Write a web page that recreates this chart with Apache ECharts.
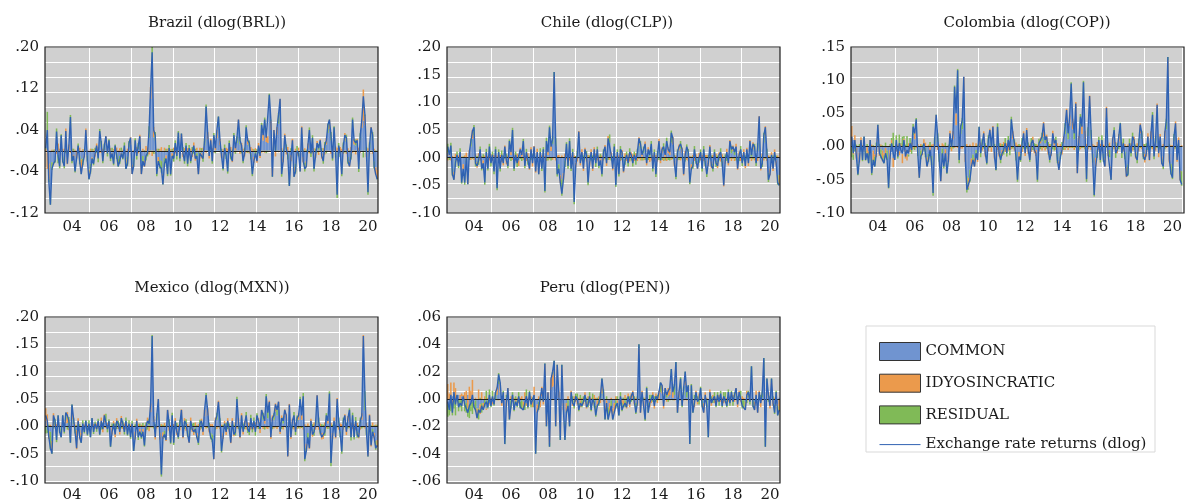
<!DOCTYPE html>
<html>
<head>
<meta charset="utf-8">
<script src="https://cdn.jsdelivr.net/npm/echarts@6/dist/echarts.min.js"></script>
<style>
  html, body { margin: 0; padding: 0; background: #fff; }
  #chart { width: 1185px; height: 503px; }
</style>
</head>
<body>
<div id="chart"></div>
<script>
// Muestras mensuales 2003M01 - 2020M12, valores en milesimas (dlog x 1000)
var years = [2003, 2004, 2005, 2006, 2007, 2008, 2009, 2010, 2011, 2012, 2013, 2014, 2015, 2016, 2017, 2018, 2019, 2020];
var meses = [];
years.forEach(function (y) {
  for (var m = 1; m <= 12; m++) meses.push(y + 'M' + (m < 10 ? '0' + m : m));
});

/* Brasil */
var brlTotal = [
  5, 40, -60, -104, -35, -25, -20, 37, -10, -30, 30, -20,
  -30, 38, -25, 10, 65, -20, -10, -40, -15, 10, -20, -45,
  -25, -10, 40, -20, -55, -40, -15, -25, -5, 10, -15, 38,
  15, -20, 10, 28, -5, 20, -15, -5, -25, 10, -10, -30,
  -20, -5, -15, 10, -35, -25, 15, 25, -45, -30, 20, -10,
  10, 28, -45, -20, -30, -10, -5, 40, 120, 190, 40, 30,
  -45, -20, -30, -35, -65, -25, -15, -45, 5, -45, -10, -15,
  15, -10, 35, -15, 33, -5, -20, 10, -25, 5, -20, -5,
  10, -15, -10, -45, -5, -10, -15, 20, 85, 35, -10, 20,
  -20, 30, 5, 40, 66, 20, -10, -35, 5, -10, -40, 15,
  -10, -20, 30, 5, 25, 60, 20, 10, -20, -5, 45, 20,
  15, -10, -45, -20, -5, -20, 10, -10, 50, 30, 60, 25,
  25, 108, 60, -50, 40, 0, 45, 70, 100, -45, -20, 30,
  5, -10, -68, -15, 20, -50, -40, 0, -5, -40, 45, -20,
  -35, -30, 10, 40, -5, 25, -35, -10, 15, 5, 20, -10,
  -20, 10, 20, 50, 60, 30, -15, 45, -5, -85, 10, -5,
  -45, 10, 30, 25, -20, -30, -10, 60, 20, 15, 20, -35,
  30, 60, 105, 70, -5, -80, 10, 45, 30, -30, -45, -55
];
var brlCommon = [
  0, 10, -25, -79, -22, -24, -18, 23, -8, -19, 15, -11,
  -16, 18, -13, -1, 47, -10, -8, -26, -2, 0, -11, -17,
  -15, -9, 29, -9, -36, -25, -13, -15, -5, 1, -8, 26,
  7, -10, 1, 14, 0, 9, -8, -5, -14, 3, -5, -16,
  -10, -5, -6, 3, -17, -11, 7, 12, -27, -16, 10, -5,
  3, 17, -29, -10, -19, -9, -1, 25, 100, 165, 26, 20,
  -27, -12, -18, -20, -45, -14, -9, -29, 0, -32, -5, -8,
  4, -5, 21, -8, 16, -1, -11, 4, -15, 0, -12, -2,
  5, -8, -5, -30, -2, -5, -8, 10, 67, 22, -5, 12,
  -12, 17, 1, 24, 46, 11, -5, -22, 1, -5, -24, 8,
  -5, -11, 17, 1, 15, 44, 12, 5, -11, -2, 31, 12,
  8, -5, -29, -12, -1, -11, 5, -5, 34, 20, 40, 17,
  15, 88, 40, -32, 20, -2, 31, 52, 78, -25, -11, 20,
  2, -5, -46, -8, 12, -32, -25, -2, -2, -25, 32, -12,
  -23, -20, 5, 27, -2, 15, -22, -5, 8, 2, 12, -5,
  -12, 5, 12, 34, 42, 20, -8, 31, -2, -64, 5, -2,
  -30, 5, 20, 17, -12, -20, -5, 44, 12, 10, 13, -23,
  20, 44, 58, 49, -2, -63, 5, 32, 20, -20, -32, -37
];
var brlIdio = [
  3, -35, -30, -7, 2, -3, 3, -6, 14, 4, -2, 3,
  4, 25, -13, 12, -4, 4, -6, 2, -12, -4, 6, -26,
  3, -4, 14, 1, -10, 4, -6, 3, -6, 13, 7, -4,
  -4, 4, -4, 14, 6, -2, 5, -6, 3, -2, 6, 1,
  5, -6, 2, -6, -6, 4, -4, 14, -18, 1, -4, 7,
  -5, 14, -16, 4, -12, 9, 6, -7, 23, -10, 20, -6,
  4, -12, 4, 7, -18, 6, -10, 4, -6, 3, -9, 6,
  -5, 7, -3, 5, 15, -11, 5, -5, 5, -6, 4, -10,
  11, -11, 6, -14, 6, -10, 6, -3, -4, 14, -10, 11,
  5, -4, 9, 16, 0, 12, -9, 3, -7, 6, 4, -5,
  7, -11, -4, 10, -3, 16, -6, 10, 4, -9, -4, 12,
  -5, 7, 4, -11, 5, -12, 10, -9, -4, 13, -4, 13,
  13, -2, 18, -15, 20, -9, 15, -3, 22, 5, -11, 13,
  -7, 7, -4, -12, 11, -16, 4, -7, 6, -14, 15, -10,
  5, -12, 9, -5, 7, -5, 5, -9, 11, -8, 10, -10,
  5, -7, 13, -2, 17, -6, 4, -2, 8, 6, -5, 7,
  4, -6, 14, -6, 5, -11, 7, -4, 11, -7, 10, 6,
  -4, 16, 60, 18, -10, 5, -6, 14, -6, 4, -14, -16
];
var brlResid = [
  2, 65, -5, -18, -15, 2, -5, 20, -16, -15, 17, -12,
  -18, -5, 1, -1, 22, -14, 4, -16, -1, 14, -15, -2,
  -13, 3, -3, -12, -9, -19, 4, -13, 6, -4, -14, 16,
  12, -14, 13, 0, -11, 13, -12, 6, -14, 9, -11, -15,
  -15, 6, -11, 13, -12, -18, 12, -1, 0, -15, 14, -12,
  12, -3, 0, -14, 1, -10, -10, 22, -3, 35, -6, 16,
  -22, 4, -16, -22, -2, -17, 4, -20, 11, -16, 4, -13,
  16, -12, 17, -12, 2, 7, -14, 11, -15, 11, -12, 7,
  -6, 4, -11, -1, -9, 5, -13, 13, 22, -1, 5, -3,
  -13, 17, -5, 0, 20, -3, 4, -16, 11, -11, -20, 12,
  -12, 2, 17, -6, 13, 0, 14, -5, -13, 6, 18, -4,
  12, -12, -20, 3, -9, 3, -5, 4, 20, -3, 24, -5,
  -3, 22, 2, -3, 0, 11, -1, 21, 0, -25, 2, -3,
  10, -12, -18, 5, -3, -2, -19, 9, -9, -1, -2, 2,
  -17, 2, -4, 18, -10, 15, -18, 4, -4, 11, -2, 5,
  -13, 12, -5, 18, 1, 16, -11, 16, -11, -27, 10, -10,
  -19, 11, -4, 14, -13, 1, -12, 20, -3, 12, -3, -18,
  14, 0, -13, 3, 7, -22, 11, -1, 16, -14, 1, -2
];

/* Chile */
var clpTotal = [
  20, 5, 22, -30, -40, -10, 5, -15, 10, -45, -20, -45,
  0, -48, 10, 30, 48, 55, -10, -15, -5, 15, -20, -10,
  -45, 10, -20, 20, -10, 5, -25, 15, -55, 10, -20, 5,
  -10, 20, -5, -15, 30, 10, 50, -20, 5, -10, -10, 15,
  5, 30, -15, 10, -5, -20, 15, -10, 20, -25, 10, -30,
  10, -20, 15, -60, 30, 10, 55, 20, 35, 155, 30, -30,
  -20, -45, -65, -40, -10, 25, -15, 30, -20, 10, -80, -15,
  5, 47, -10, 10, -20, 15, 5, -45, -10, 10, -20, 15,
  -10, 15, -15, -5, -30, 10, 20, -10, 35, 38, 5, -20,
  20, -50, 10, -30, 15, 10, -25, -5, 5, -10, 10, 5,
  -10, 5, -5, 10, 35, 25, 5, 15, 25, -10, 15, 5,
  25, -20, 10, -30, 5, 30, -5, 15, 20, 5, 30, 15,
  10, 45, 35, -10, -35, 10, 20, 25, 15, -30, 5, 20,
  10, -45, -20, -15, 15, -5, -20, 0, 10, -20, 15, -10,
  -30, -10, 20, -15, -20, 10, -10, -15, 5, 10, -10, -50,
  -5, 10, -10, 30, 15, 20, 10, 20, -20, 5, 15, -10,
  10, -15, 15, -10, 30, 5, 25, 20, -10, 20, 75, -20,
  -10, 40, 55, 10, -40, -30, 5, -20, 10, -10, -45, -50
];
var clpCommon = [
  9, 4, 8, -19, -26, -5, 1, -8, 5, -29, -12, -28,
  0, -32, 5, 20, 34, 40, -5, -8, -2, 8, -11, -5,
  -32, 5, -11, 10, -5, 2, -15, 8, -37, 5, -12, 2,
  -5, 10, -2, -8, 19, 5, 36, -10, 2, -5, -5, 8,
  2, 15, -8, 5, -2, -11, 8, -5, 10, -14, 5, -17,
  5, -11, 8, -44, 16, 5, 41, 12, 25, 125, 21, -20,
  -12, -32, -39, -28, -5, 15, -8, 16, -12, 5, -64, -9,
  3, 33, -5, 5, -11, 8, 2, -32, -5, 5, -12, 10,
  -5, 8, -8, -2, -20, 5, 11, -5, 24, 27, 2, -12,
  13, -36, 5, -20, 8, 5, -15, -2, 2, -5, 5, 2,
  -5, 2, -2, 5, 22, 16, 2, 8, 16, -5, 8, 2,
  16, -12, 5, -20, 2, 20, -2, 8, 12, 2, 20, 8,
  5, 27, 24, -5, -22, 5, 13, 16, 8, -20, 2, 13,
  5, -31, -12, -7, 8, -2, -9, 0, 5, -12, 8, -5,
  -18, -5, 13, -7, -11, 5, -5, -8, 2, 5, -5, -36,
  -2, 5, -5, 20, 8, 12, 5, 13, -12, 2, 8, -5,
  5, -7, 8, -5, 18, 2, 15, 13, -5, 12, 55, -12,
  -5, 27, 39, 5, -27, -20, 2, -12, 5, -5, -31, -32
];
var clpIdio = [
  -5, 5, -5, 3, -13, 7, -6, 4, -7, 2, -10, 4,
  9, -15, 9, -4, 16, -4, 6, -10, 8, -5, 3, -11,
  4, -6, 3, -5, 6, -6, 5, -5, 4, -5, 5, -8,
  -9, 12, -10, 4, -3, 11, -4, 4, -6, 7, -10, 10,
  9, -4, 4, -6, 8, -11, 11, -11, 11, -13, 11, -12,
  -7, 4, -4, 3, -6, 10, -3, 13, -4, 22, -5, 4,
  5, -14, 4, -12, 7, -3, 5, -5, 4, -6, 4, -9,
  -7, 15, -9, 10, -13, 10, -7, 5, -9, 10, -12, 9,
  7, -5, 4, -10, 4, -5, 12, -10, 15, -4, 8, -11,
  -5, 3, -5, 4, -6, 9, -12, 8, -6, 6, -7, 8,
  6, -6, 8, -6, 15, -5, 8, -5, 13, -9, 11, -8,
  -5, 5, -5, 5, -7, 14, -8, 11, -6, 8, -6, 11,
  10, -4, 14, -10, 4, -5, 11, -5, 10, -12, 10, -4,
  -6, 3, -10, 5, -6, 6, -11, 9, -5, 5, -6, 5,
  5, -10, 10, -12, 5, -5, 7, -11, 8, -7, 6, -16,
  -9, 11, -9, 12, -6, 10, -6, 12, -10, 9, -6, 5,
  10, -12, 10, -10, 14, -6, 13, -5, 5, -6, 20, -11,
  7, -5, 18, -6, 4, -12, 8, -12, 10, -9, 4, -17
];
var clpResid = [
  16, -4, 19, -14, -1, -12, 10, -11, 12, -18, 2, -21,
  -9, -1, -4, 14, -2, 19, -11, 3, -11, 12, -12, 6,
  -17, 11, -12, 15, -11, 9, -15, 12, -22, 10, -13, 11,
  4, -2, 7, -11, 14, -6, 18, -14, 9, -12, 5, -3,
  -6, 19, -11, 11, -11, 2, -4, 6, -1, 2, -6, -1,
  12, -13, 11, -19, 20, -5, 17, -5, 14, 8, 14, -14,
  -13, 1, -30, 0, -12, 13, -12, 19, -12, 11, -20, 3,
  9, -1, 4, -5, 4, -3, 10, -18, 4, -5, 4, -4,
  -12, 12, -11, 7, -14, 10, -3, 5, -4, 15, -5, 3,
  12, -17, 10, -14, 13, -4, 2, -11, 9, -11, 12, -5,
  -11, 9, -11, 11, -2, 14, -5, 12, -4, 4, -4, 11,
  14, -13, 10, -15, 10, -4, 5, -4, 14, -5, 16, -4,
  -5, 22, -3, 5, -17, 10, -4, 14, -3, 2, -7, 11,
  11, -17, 2, -13, 13, -9, 0, -9, 10, -13, 13, -10,
  -17, 5, -3, 4, -14, 10, -12, 4, -5, 12, -11, 2,
  6, -6, 4, -2, 13, -2, 11, -5, 2, -6, 13, -10,
  -5, 4, -3, 5, -2, 9, -3, 12, -10, 14, 0, 3,
  -12, 18, -2, 11, -17, 2, -5, 4, -5, 4, -18, -1
];

/* Colombia */
var copTotal = [
  15, -10, 10, -15, -42, -20, 10, -20, 15, -20, -10, -25,
  10, -40, -20, -30, -10, 33, -10, -15, -20, -25, -10, -20,
  -62, -15, 5, -10, -20, 10, -15, 5, -5, -10, 10, -15,
  -5, -10, 5, -5, 30, 20, 41, -10, -47, -15, -10, 5,
  -10, -30, -20, -5, -25, -70, 10, 48, 15, -20, -52, -10,
  -30, -10, -40, -20, 20, 0, 20, 90, 50, 115, -20, 30,
  40, 105, -20, -65, -65, -50, -30, -20, -30, -10, -20, 30,
  -10, 5, 20, -10, -25, 10, 25, 0, 30, -15, -35, 30,
  -10, -20, -10, -5, 5, -10, 10, -5, 41, 20, 5, -15,
  -50, -15, -20, 5, 20, -10, 25, -5, -20, 5, 10, -5,
  -10, -50, 5, 10, 15, 35, 10, 15, -5, -20, -10, 20,
  5, 10, -20, -35, -15, -5, 10, 30, 55, 20, 45, 95,
  40, 20, 65, -40, 10, 45, 30, 97, 20, -49, 25, 76,
  20, -20, -73, -30, -10, 10, -20, 10, -20, -30, 58, -10,
  -10, -50, 10, 25, -10, -5, 15, 35, -10, 5, -15, -45,
  -41, 5, -10, 15, 10, -15, -20, 5, 33, 20, -15, -20,
  -10, 15, -20, 20, 48, -15, 10, 63, -10, 15, -25, -30,
  20, 40, 135, -20, -40, -47, 15, 35, -20, 10, -50, -57
];
var copCommon = [
  8, 10, -4, -2, -26, -9, -4, -6, 2, -6, -1, -7,
  5, -19, -6, -12, -2, 8, -1, -4, -6, -10, -2, -6,
  -42, -5, -8, -17, -20, -4, -5, -7, -10, -11, -6, -5,
  -11, -12, -3, 0, 17, 11, 27, -3, -31, -6, -3, 0,
  -2, -16, -11, -1, -14, -47, 3, 32, 7, -11, -36, -3,
  -17, -4, -24, -11, 12, 0, 11, 68, 32, 93, -11, 19,
  26, 83, -11, -44, -47, -35, -18, -12, -17, -5, -10, 0,
  -5, 2, 10, -5, -14, 5, 15, -1, 17, -8, -21, 16,
  -5, -11, -5, -2, 2, -5, 5, -2, 27, 11, 2, -8,
  -34, -8, -11, 2, 11, -5, 15, -2, -11, 2, 5, -2,
  -5, -34, 2, 5, 8, 15, 5, 8, -2, -11, -5, 11,
  2, 5, -11, -22, -8, -2, 5, 19, 37, 11, 31, 73,
  26, 11, 47, -26, 5, 31, 19, 75, 11, -33, 16, 58,
  11, -11, -53, -17, -5, 5, -10, 5, -11, -17, 44, -5,
  -5, -30, 5, 15, -5, -2, 8, 15, -5, 2, -8, -31,
  -27, 2, -5, 8, 5, -8, -10, 2, 20, 11, -8, -11,
  -5, 8, -10, 11, 34, -8, 5, 45, -5, 8, -15, -19,
  11, 26, 105, -11, -26, -29, 8, 24, -11, 5, -36, -37
];
var copIdio = [
  23, -12, 17, -16, 1, -15, 14, 2, 1, 1, -13, -3,
  3, 3, -16, -3, -14, 23, -13, 3, -16, -3, -14, 0,
  1, -14, 10, -14, 0, -3, 3, -6, 4, -14, 12, -13,
  -10, 5, -5, 6, -4, 14, -2, 4, -15, 4, -10, 11,
  6, -14, 3, -11, 3, 4, -4, 15, -5, 3, -16, 5,
  3, -12, 1, -12, 12, -7, 12, -2, 18, -2, 5, -3,
  -3, 22, -12, 4, -15, 3, -11, 6, -13, 5, -13, 15,
  6, -6, 13, -10, 2, -7, 12, -7, 14, -11, 1, -5,
  -10, 5, -9, 7, -8, 5, -6, 8, -4, 12, -6, 6,
  3, -11, 3, -8, 12, -9, 13, -9, 3, -8, 10, -8,
  -9, 3, -7, 9, -6, 22, -6, 10, -10, 4, -9, 13,
  9, -5, 5, -13, 4, -10, 10, -5, 20, -5, 16, -2,
  16, -5, 20, -14, 11, -4, 13, -2, 13, 4, -4, 19,
  -5, 4, 2, -13, 7, -5, 4, -7, 3, -13, 16, -9,
  6, -17, 9, -4, 7, -8, 11, -1, 7, -7, 4, -15,
  3, -7, 5, -6, 10, -10, 5, -7, 15, -4, 4, -13,
  -10, 12, -11, 12, -4, 4, -6, 20, -11, 11, -11, 4,
  13, -2, 25, -13, 2, 2, -4, 14, -12, 9, -15, 2
];
var copResid = [
  -16, -8, -3, 3, -17, 4, 0, -16, 12, -15, 4, -15,
  2, -24, 2, -15, 6, 2, 4, -14, 2, -12, 6, -14,
  -21, 4, 3, 21, 0, 17, -13, 18, 1, 15, 4, 3,
  16, -3, 13, -11, 17, -5, 16, -11, -1, -13, 3, -6,
  -14, 0, -12, 7, -14, -27, 11, 1, 13, -12, 0, -12,
  -16, 6, -17, 3, -4, 7, -3, 24, 0, 24, -14, 14,
  17, 0, 3, -25, -3, -18, -1, -14, 0, -10, 3, 15,
  -11, 9, -3, 5, -13, 12, -2, 8, -1, 4, -15, 19,
  5, -14, 4, -10, 11, -10, 11, -11, 18, -3, 9, -13,
  -19, 4, -12, 11, -3, 4, -3, 6, -12, 11, -5, 5,
  4, -19, 10, -4, 13, -2, 11, -3, 7, -13, 4, -4,
  -6, 10, -14, 0, -11, 7, -5, 16, -2, 14, -2, 24,
  -2, 14, -2, 0, -6, 18, -2, 24, -4, -20, 13, -1,
  14, -13, -22, 0, -12, 10, -14, 12, -12, 0, -2, 4,
  -11, -3, -4, 14, -12, 5, -4, 21, -12, 10, -11, 1,
  -17, 10, -10, 13, -5, 3, -15, 10, -2, 13, -11, 4,
  5, -5, 1, -3, 18, -11, 11, -2, 6, -4, 1, -15,
  -4, 16, 5, 4, -16, -20, 11, -3, 3, -4, 1, -22
];

/* Mexico */
var mxnTotal = [
  20, 10, -20, -40, -50, 20, 10, -25, 20, -10, -20, 20,
  -10, 25, 20, 10, -30, 40, 15, -10, -40, 10, -20, -30,
  5, -10, 10, -15, 5, -20, 15, -10, 5, -5, 10, -15,
  10, -5, 20, 20, -5, 10, -37, -10, 5, -15, 10, 5,
  -10, 15, 5, -10, 10, -15, 5, -20, 5, -45, -20, 10,
  -20, -10, -20, -10, -35, 0, 10, 5, 40, 165, 15, -20,
  20, 50, -20, -88, -20, -15, -25, 30, 5, -30, 20, -30,
  10, -10, -20, 5, 30, -20, 10, 5, -15, -30, 10, -5,
  -10, -5, -20, -30, 5, 10, -10, 30, 57, 30, -5, -20,
  -25, -60, 10, 20, 45, 10, -45, -20, 5, -10, 10, -5,
  -30, 10, -15, -10, 50, 10, -20, 20, -10, 5, 20, -5,
  -10, 15, -5, 10, -10, 20, 10, -5, 30, 20, 10, 55,
  25, 45, -20, 15, 20, 40, 30, 45, -10, 15, 10, 30,
  20, -55, 40, -20, 10, 20, -10, 15, 20, 50, 20, 55,
  -60, -45, -20, -40, 10, -15, -10, 5, 57, 10, -10, -20,
  -20, -10, 20, 10, 60, -67, -20, 10, -20, 50, 10, -15,
  -46, 10, 20, -10, 15, 30, -20, 20, -20, 10, -15, -20,
  10, 20, 165, 60, -10, -55, 20, -35, -10, -20, -40, -35
];
var mxnCommon = [
  10, -7, -9, -10, -27, 0, -4, -12, 6, 0, -5, 4,
  -1, 5, 6, -3, -15, 12, 3, 0, -7, 1, -7, -12,
  -2, 0, 0, -2, 0, -6, 2, -2, 0, 0, 2, -5,
  2, 0, 7, 8, -1, 3, -23, -3, 1, -6, 3, 1,
  -4, 5, 1, -4, 4, -6, 1, -9, 1, -29, -10, 4,
  -11, -5, -11, -5, -21, 0, 5, 2, 26, 143, 8, -11,
  11, 34, -12, -68, -11, -8, -16, 17, 2, -17, 12, -17,
  5, -5, -11, 2, 17, -12, 5, 2, -8, -17, 5, -2,
  -5, -2, -12, -17, 2, 5, -5, 18, 41, 20, -2, -12,
  -15, -44, 5, 12, 32, 5, -29, -12, 2, -5, 5, -2,
  -17, 5, -8, -5, 36, 5, -12, 12, -5, 2, 12, -2,
  -5, 8, -2, 5, -5, 12, 5, -2, 18, 12, 5, 41,
  15, 32, -12, 9, 12, 27, 20, 32, -5, 9, 5, 20,
  12, -39, 27, -12, 5, 12, -5, 9, 12, 36, 12, 34,
  -39, -32, -12, -27, 5, -9, -5, 2, 41, 5, -5, -12,
  -12, -5, 12, 5, 44, -41, -12, 5, -12, 37, 5, -9,
  -33, 5, 12, -5, 9, 20, -12, 12, -12, 5, -9, -12,
  5, 12, 143, 29, -5, -39, 12, -25, -5, -12, -27, -25
];
var mxnIdio = [
  23, 22, -14, 3, -18, 24, 2, 4, 1, 2, 0, 3,
  3, 7, 20, -4, -2, 20, 1, 3, -35, 14, -17, -5,
  -4, 3, -1, 2, -6, 0, 0, 4, -4, 5, -4, 1,
  14, -11, 15, -3, 6, -3, 1, -12, 9, -14, 12, -5,
  -11, 14, -5, 5, -6, 2, -6, 3, -5, 0, -14, 10,
  5, -10, 3, -11, 2, -7, 11, -9, 16, -2, 11, -13,
  -4, 16, -12, 4, -12, 6, -11, 13, -8, 2, -5, 4,
  10, -11, 3, -7, 14, -10, 10, -8, 4, -13, 11, -8,
  -11, 7, -10, 4, -7, 9, -11, 12, -4, 13, -9, 4,
  4, -16, 11, -5, 15, -5, 3, -11, 8, -11, 10, -8,
  -14, 10, -10, 7, -4, 10, -10, 12, -10, 8, -6, 7,
  6, -6, 6, -6, 7, -4, 10, -10, 11, -5, 11, -4,
  -5, 15, -11, 11, -4, 15, -5, 13, -9, 11, -6, 11,
  11, -16, 14, -11, 9, -6, 6, -5, 12, -4, 11, -6,
  4, -14, 5, -14, 9, -10, 7, -6, 16, -6, 5, -12,
  -11, 7, -4, 10, -4, 6, -11, 11, -10, 15, -6, 5,
  4, -6, 10, -11, 10, -3, 6, -5, 4, -7, 6, -10,
  -6, 12, 24, -4, 6, -15, 10, -12, 7, -10, 3, -13
];
var mxnResid = [
  -13, -5, 3, -33, -5, -4, 12, -17, 13, -12, -15, 13,
  -12, 13, -6, 17, -13, 8, 11, -13, 2, -5, 4, -13,
  11, -13, 11, -15, 11, -14, 13, -12, 9, -10, 12, -11,
  -6, 6, -2, 15, -10, 10, -15, 5, -5, 5, -5, 9,
  5, -4, 9, -11, 12, -11, 10, -14, 9, -16, 4, -4,
  -14, 5, -12, 6, -16, 7, -6, 12, -2, 24, -4, 4,
  13, 0, 4, -24, 3, -13, 2, 0, 11, -15, 13, -17,
  -5, 6, -12, 10, -1, 2, -5, 11, -11, 0, -6, 5,
  6, -10, 2, -17, 10, -4, 6, 0, 20, -3, 6, -12,
  -14, 0, -6, 13, -2, 10, -19, 3, -5, 6, -5, 5,
  1, -5, 3, -12, 18, -5, 2, -4, 5, -5, 14, -10,
  -11, 13, -9, 11, -12, 12, -5, 7, 1, 13, -6, 18,
  15, -2, 3, -5, 12, -2, 15, 0, 4, -5, 11, -1,
  -3, 0, -1, 3, -4, 14, -11, 11, -4, 18, -3, 27,
  -25, 1, -13, 1, -4, 4, -12, 9, 0, 11, -10, 4,
  3, -12, 12, -5, 20, -32, 3, -6, 2, -2, 11, -11,
  -17, 11, -2, 6, -4, 13, -14, 13, -12, 12, -12, 2,
  11, -4, -2, 35, -11, -1, -2, 2, -12, 2, -16, 3
];

/* Peru */
var penTotal = [
  -2, -8, 3, -10, 5, -4, 3, -6, -3, -5, 2, -4,
  -4, -10, -5, -3, 3, -6, -8, -14, -8, -10, -5, -8,
  -4, -2, -6, 3, -5, 2, -4, 5, 8, 18, 12, -3,
  5, -33, -3, 8, -15, -5, 3, -8, -2, -5, 2, -6,
  -5, -8, -3, 2, -6, 5, -4, -5, 3, -40, -10, -6,
  -5, 8, -2, 26, -20, 5, -35, 15, 20, 28, -20, 25,
  5, -30, 25, -8, -30, -10, -5, -20, 5, -3, -5, 2,
  0, -8, -3, -5, -2, 3, -6, -4, 2, -8, 0, -3,
  -12, -5, -3, 2, 15, 5, -15, -3, -15, -10, -5, -15,
  -10, -5, -3, -12, 2, -8, -5, -3, -6, 2, -4, 2,
  5, -2, -10, -3, 40, -10, 5, -5, -15, 8, -10, -3,
  0, 3, -5, 2, 0, 5, 12, 10, -5, 8, 3, 6,
  8, 22, 5, 10, 27, -10, 5, 15, -5, 8, 20, 5,
  10, -33, 10, -10, -3, 5, -2, 0, 8, -5, -10, 3,
  -5, -28, 5, -3, 0, 2, -5, 3, -2, 4, -5, 2,
  3, -5, 5, -3, 5, -2, 3, 8, -4, 5, 4, -5,
  -5, -8, 3, 5, -2, 24, -5, -8, 3, -10, 5, -3,
  5, 30, -35, 15, 3, -5, 15, -3, -10, 5, -12, -8
];
var penCommon = [
  -4, -4, -1, 2, -1, -1, 0, 3, -1, 2, -1, -1,
  -3, 3, -5, -3, -2, -3, -1, -7, -7, -4, -3, -3,
  0, -7, -1, -3, -1, -2, 0, 0, 3, 11, 5, 1,
  1, -22, 1, 2, -8, -1, -1, -2, 0, -1, 0, -2,
  -1, -2, -3, -3, -2, 1, 0, -1, -1, -26, -4, -2,
  -1, 2, 0, 15, -11, 0, -22, 7, 9, 10, -11, 14,
  1, -17, 15, -3, -17, -3, -1, -11, 1, -1, -1, 0,
  -2, -3, -1, -1, 0, 0, -2, -1, 0, -3, -2, -1,
  -5, -1, 0, 0, 4, 2, -5, -1, -6, -3, -1, -7,
  -3, -1, -1, -5, 0, 1, -1, -1, -2, 0, -1, 0,
  1, 0, -3, -1, 26, -3, 1, -1, -7, 3, -3, -1,
  0, 1, -1, 0, 0, 0, 5, 4, -1, 3, 1, 2,
  3, 13, 1, 3, 14, -3, 1, 7, -1, 3, 10, 1,
  4, -20, 3, -3, -1, 1, 0, 0, 3, -1, -3, 1,
  -1, -15, 1, -1, 0, 0, -1, 1, 0, 1, -1, 0,
  1, -1, 1, -1, 1, 0, 1, 3, 0, 1, 1, -1,
  -1, -2, 1, 1, 0, 14, -1, -2, 1, -4, 1, -1,
  1, 15, -21, 6, 1, -1, 6, -1, -4, 1, -4, 1
];
var penIdio = [
  11, 4, 12, -7, 12, 8, 2, 0, 3, 2, 3, 5,
  6, -7, 9, 6, 14, -1, 1, -7, 7, -7, 5, -5,
  2, -1, 1, -1, 1, -2, 1, 0, 6, -1, 7, -5,
  -1, -1, -6, 6, -6, 2, -1, 1, -4, 1, -3, 1,
  2, -6, 5, -2, 1, -1, 2, -5, 9, -1, -6, 2,
  -5, 7, -4, 10, -8, 5, -10, 8, 9, 14, -8, 10,
  5, -9, 8, -5, 0, -6, 2, -7, 5, -4, 2, -2,
  -2, 1, -5, 1, -4, 5, -5, 2, -3, 1, -2, 3,
  1, -5, 2, -3, 7, -2, -3, -4, 0, -7, 1, -6,
  -6, 2, -4, 0, -3, -3, -5, 3, -5, 4, -5, 4,
  5, -4, 1, -4, 11, -7, 5, -5, 1, -1, 0, -5,
  -3, 4, -6, 4, -3, 6, 0, 6, -6, 5, -2, 6,
  6, 0, 5, -1, 9, -6, 5, -1, 1, -1, 8, -1,
  0, -1, -1, 0, -5, 5, -4, 4, -1, 1, -7, 4,
  1, -8, 6, -4, 3, -3, 1, -2, 3, -2, 1, -3,
  -2, 1, -2, 2, -1, 3, -2, 5, -6, 5, -2, 2,
  1, -6, 5, -1, 2, 0, 1, -6, 5, -6, 5, -5,
  -1, 1, 0, 0, 4, -6, 6, -4, 1, -1, -1, -9
];
var penResid = [
  -9, -8, -8, -5, -6, -11, 1, -9, -5, -9, 0, -8,
  -7, -6, -9, -6, -9, -2, -8, 0, -8, 1, -7, 0,
  -6, 6, -6, 7, -5, 6, -5, 5, -1, 8, 0, 1,
  5, -10, 2, 0, -1, -6, 5, -7, 2, -5, 5, -5,
  -6, 0, -5, 7, -5, 5, -6, 1, -5, -13, 0, -6,
  1, -1, 2, 1, -1, 0, -3, 0, 2, 4, -1, 1,
  -1, -4, 2, 0, -13, -1, -6, -2, -1, 2, -6, 4,
  4, -6, 3, -5, 2, -2, 1, -5, 5, -6, 4, -5,
  -8, 1, -5, 5, 4, 5, -7, 2, -9, 0, -5, -2,
  -1, -6, 2, -7, 5, -6, 1, -5, 1, -2, 2, -2,
  -1, 2, -8, 2, 3, 0, -1, 1, -9, 6, -7, 3,
  3, -2, 2, -2, 3, -1, 7, 0, 2, 0, 4, -2,
  -1, 9, -1, 8, 4, -1, -1, 9, -5, 6, 2, 5,
  6, -12, 8, -7, 3, -1, 2, -4, 6, -5, 0, -2,
  -5, -5, -2, 2, -3, 5, -5, 4, -5, 5, -5, 5,
  4, -5, 6, -4, 5, -5, 4, 0, 2, -1, 5, -6,
  -5, 0, -3, 5, -4, 10, -5, 0, -3, 0, -1, 3,
  5, 14, -14, 9, -2, 2, 3, 2, -7, 5, -7, 0
];

var panels = [
  { titulo: 'Brazil (dlog(BRL))', total: brlTotal, common: brlCommon, idio: brlIdio, resid: brlResid,
    min: -0.12, max: 0.20, paso: 0.04, etiquetas: [-12, -4, 4, 12, 20], left: 45, top: 47, tx: 217, ty: 23 },
  { titulo: 'Chile (dlog(CLP))', total: clpTotal, common: clpCommon, idio: clpIdio, resid: clpResid,
    min: -0.10, max: 0.20, paso: 0.05, etiquetas: null, left: 447, top: 47, tx: 607, ty: 23 },
  { titulo: 'Colombia (dlog(COP))', total: copTotal, common: copCommon, idio: copIdio, resid: copResid,
    min: -0.10, max: 0.15, paso: 0.05, etiquetas: null, left: 851, top: 47, tx: 1027, ty: 23 },
  { titulo: 'Mexico (dlog(MXN))', total: mxnTotal, common: mxnCommon, idio: mxnIdio, resid: mxnResid,
    min: -0.10, max: 0.20, paso: 0.05, etiquetas: null, left: 45, top: 317, tx: 212, ty: 288 },
  { titulo: 'Peru (dlog(PEN))', total: penTotal, common: penCommon, idio: penIdio, resid: penResid,
    min: -0.06, max: 0.06, paso: 0.02, etiquetas: null, left: 447, top: 317, tx: 605, ty: 288 }
];

var fuente = 'DejaVu Serif';
var colores = { common: '#7094d0', idio: '#eb9a4c', resid: '#80ba57', linea: '#3062b2' };
var ancho = 333, alto = 166;

function milesimas(arr) {
  return arr.map(function (v) { return v / 1000; });
}

function formatoY(etiquetas) {
  return function (v) {
    var c = Math.round(v * 100);
    if (etiquetas && etiquetas.indexOf(c) < 0) return '';
    var s = v.toFixed(2);
    if (s === '-0.00') s = '0.00';
    return s.replace('0.', '.');
  };
}

var borde = { borderColor: '#333', borderWidth: 1 };
var option = {
  animation: false,
  grid: [], xAxis: [], yAxis: [], series: [],
  graphic: [
    { type: 'rect', shape: { x: 866, y: 326, width: 289, height: 126 },
      style: { fill: '#fff', stroke: '#d9d9d9', lineWidth: 1 }, z: 0, silent: true }
  ],
  legend: {
    orient: 'vertical', left: 874, top: 337, itemWidth: 41, itemHeight: 18, itemGap: 12.7,
    selectedMode: false,
    textStyle: { fontFamily: fuente, fontSize: 15, color: '#1a1a1a' },
    lineStyle: { width: 1 },
    data: [
      { name: 'COMMON', icon: 'rect', itemStyle: borde },
      { name: 'IDYOSINCRATIC', icon: 'rect', itemStyle: borde },
      { name: 'RESIDUAL', icon: 'rect', itemStyle: borde },
      // solo la linea, sin simbolo
      { name: 'Exchange rate returns (dlog)',
        itemStyle: { color: 'rgba(0,0,0,0)', borderWidth: 0, opacity: 0 } }
    ]
  }
};

panels.forEach(function (p, k) {
  option.grid.push({ left: p.left, top: p.top, width: ancho, height: alto, show: true,
    backgroundColor: '#d0d0d0', borderWidth: 0 });

  option.xAxis.push({
    type: 'category', gridIndex: k, data: meses, boundaryGap: true,
    axisLine: { show: false }, axisTick: { show: false },
    axisLabel: {
      interval: function (i) { return i % 24 === 17; },
      formatter: function (v) { return v.substr(2, 2); },
      margin: 7, color: '#1a1a1a', fontFamily: fuente, fontSize: 15
    },
    splitLine: {
      show: true,
      interval: function (i) { return i >= 29 && (i - 29) % 27 === 0; },
      lineStyle: { color: '#ffffff', width: 1 }
    }
  });

  // eje de valores
  option.yAxis.push({
    type: 'value', gridIndex: k, min: p.min, max: p.max, interval: p.paso,
    splitLine: { show: false }, axisLine: { show: false }, axisTick: { show: false },
    axisLabel: { formatter: formatoY(p.etiquetas), margin: 6, padding: [0, 0, 9, 0],
      color: '#1a1a1a', fontFamily: fuente, fontSize: 15 }
  });
  // rejilla horizontal (11 tramos iguales)
  option.yAxis.push({
    type: 'value', gridIndex: k, min: 0, max: 11, interval: 1, position: 'right',
    axisLabel: { show: false }, axisLine: { show: false }, axisTick: { show: false },
    splitLine: { show: true, lineStyle: { color: '#ffffff', width: 1 } }
  });

  var yi = 2 * k;
  var base = { type: 'bar', xAxisIndex: k, yAxisIndex: yi, stack: 'p' + k, barCategoryGap: '0%',
    emphasis: { disabled: true }, silent: true };
  option.series.push(Object.assign({}, base, { name: 'COMMON', data: milesimas(p.common),
    itemStyle: { color: colores.common } }));
  option.series.push(Object.assign({}, base, { name: 'IDYOSINCRATIC', data: milesimas(p.idio),
    itemStyle: { color: colores.idio } }));
  option.series.push(Object.assign({}, base, { name: 'RESIDUAL', data: milesimas(p.resid),
    itemStyle: { color: colores.resid } }));
  option.series.push({
    type: 'line', name: 'Exchange rate returns (dlog)', xAxisIndex: k, yAxisIndex: yi,
    data: milesimas(p.total), symbol: 'none', showSymbol: false, z: 5, silent: true,
    lineStyle: { color: colores.linea, width: 1.4 }, itemStyle: { color: colores.linea },
    markLine: { silent: true, symbol: 'none', label: { show: false },
      lineStyle: { color: '#222', width: 1, type: 'solid' }, data: [{ yAxis: 0 }] }
  });

  // marco del panel y titulo
  option.graphic.push({ type: 'rect', z: 100, silent: true,
    shape: { x: p.left, y: p.top, width: ancho, height: alto },
    style: { fill: 'none', stroke: '#1e1e1e', lineWidth: 1.2 } });
  option.graphic.push({ type: 'text', z: 100, silent: true, x: p.tx, y: p.ty,
    style: { text: p.titulo, font: '15px "' + fuente + '"', fill: '#1a1a1a',
      textAlign: 'center', textVerticalAlign: 'middle' } });
});

var chart = echarts.init(document.getElementById('chart'));
chart.setOption(option);
</script>
</body>
</html>
